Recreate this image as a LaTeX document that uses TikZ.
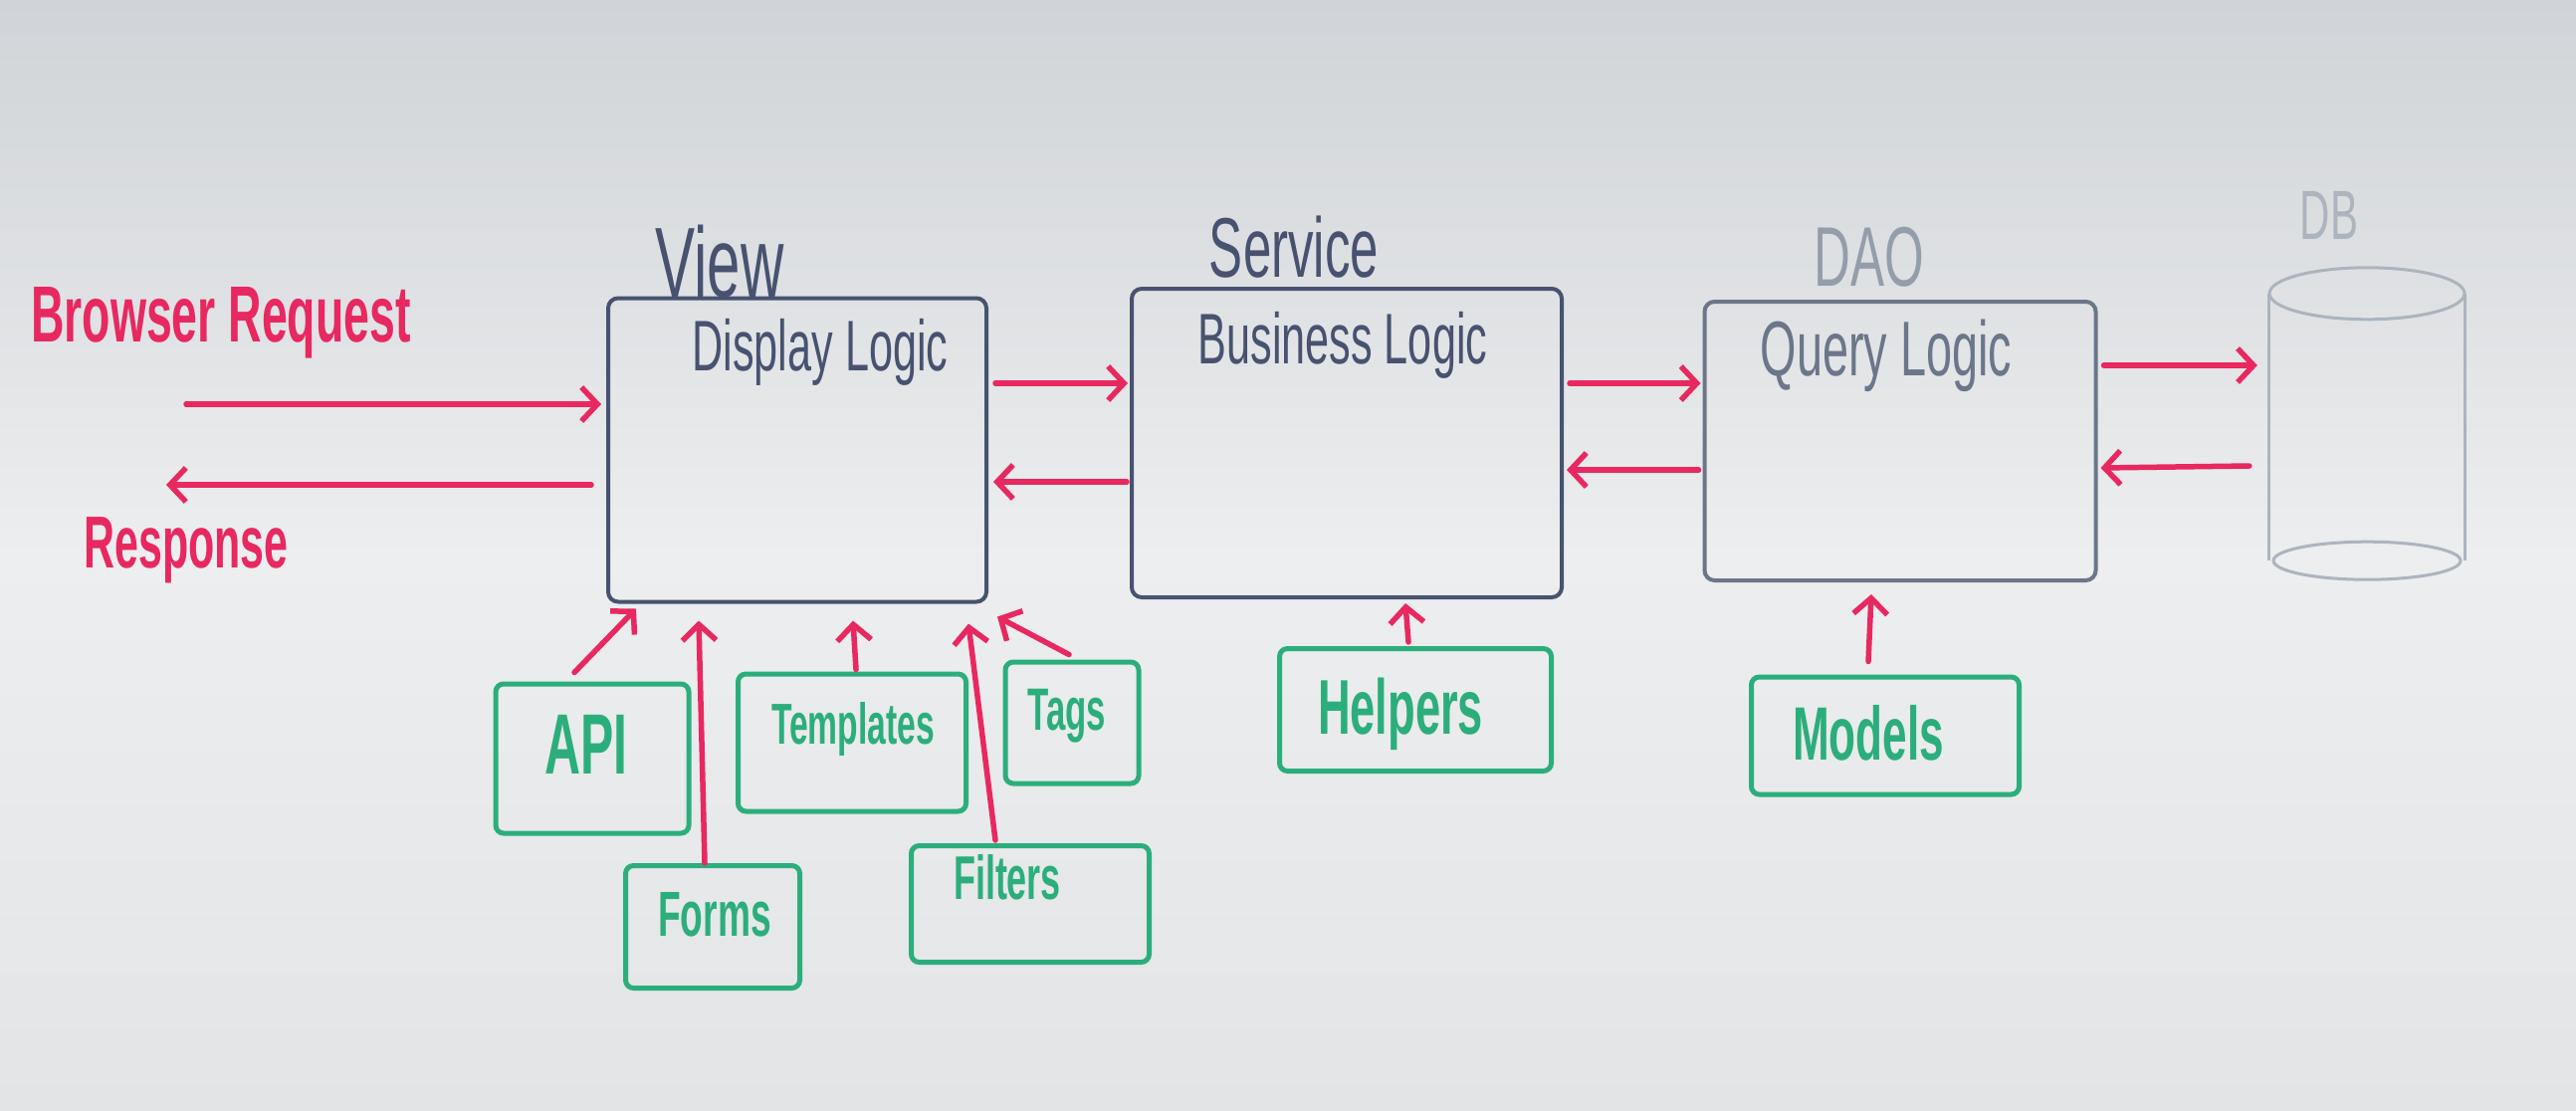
\documentclass[tikz,border=0pt]{standalone}
\usepackage{fontspec}
\newfontfamily\handfont[FakeStretch=0.6]{Liberation Sans}
\newfontfamily\markfont[FakeStretch=0.58]{Liberation Sans Bold}
\newcommand{\hsz}[1]{\handfont\fontsize{#1}{#1}\selectfont}
\newcommand{\msz}[1]{\markfont\fontsize{#1}{#1}\selectfont}
\usetikzlibrary{arrows.meta}
\definecolor{mred}{RGB}{232,40,96}
\definecolor{mgreen}{RGB}{44,174,124}
\definecolor{inkdark}{RGB}{72,82,112}
\definecolor{inkmid}{RGB}{108,118,138}
\definecolor{inklight}{RGB}{148,158,170}
\definecolor{inkfaint}{RGB}{172,180,190}
\definecolor{bgtop}{RGB}{208,211,215}
\definecolor{bgmid}{RGB}{236,238,239}
\definecolor{bgbot}{RGB}{226,228,230}
\begin{document}
\begin{tikzpicture}[x=1pt,y=-1pt,
  frame/.style={draw, rectangle, rounded corners=10pt, inner sep=0pt, line width=4pt},
  gbox/.style={draw=mgreen, rectangle, rounded corners=8pt, inner sep=0pt, line width=5pt},
  redarrow/.style={draw=mred, line width=5.5pt, line cap=round,
    -{Straight Barb[length=16pt,width=34pt,line width=5.5pt]}},
  redtext/.style={text=mred, anchor=base, inner sep=0pt},
  greentext/.style={text=mgreen, anchor=base, inner sep=0pt},
  inktext/.style={anchor=base, inner sep=0pt},
  dbline/.style={draw=inkfaint, line width=3pt}
]
\useasboundingbox (0,0) rectangle (2588,1116);
\shade[top color=bgtop, bottom color=bgbot, middle color=bgmid] (0,0) rectangle (2588,1116);

% main boxes
\node[frame, draw=inkdark, minimum width=380, minimum height=305] (view) at (801,452) {};
\node[frame, draw=inkdark, minimum width=432, minimum height=310] (svc) at (1353,445) {};
\node[frame, draw=inkmid, minimum width=393, minimum height=280] (dao) at (1909,443) {};
\node[inner sep=0pt, minimum width=196, minimum height=268] (db) at (2378,429) {};
\draw[dbline] (db.north west) -- (db.south west);
\draw[dbline] (db.north east) -- (db.south east);
\draw[dbline] (db.north) ellipse [x radius=98, y radius=26];
\draw[dbline] (db.south) ellipse [x radius=94, y radius=19];

% titles
\node[inktext, text=inkdark, font=\hsz{100}] (tview) at (723,298) {View};
\node[inktext, text=inkdark, font=\hsz{72}] (tdisp) at (824,372) {Display Logic};
\node[inktext, text=inkdark, font=\hsz{85}] (tsvc) at (1300,278) {Service};
\node[inktext, text=inkdark, font=\hsz{72}] (tbus) at (1349,365) {Business Logic};
\node[inktext, text=inklight, font=\hsz{85}] (tdao) at (1878,287) {DAO};
\node[inktext, text=inkmid, font=\hsz{78}] (tquery) at (1895,377) {Query Logic};
\node[inktext, text=inkfaint, font=\hsz{70}] (tdb) at (2340,240) {DB};

% browser side
\node[redtext, font=\msz{80}] (treq) at (222,343) {Browser Request};
\node[redtext, font=\msz{74}] (tresp) at (187,570) {Response};
\coordinate (reqstart) at (187,406);
\coordinate (respend) at (167,487);
\draw[redarrow] (reqstart) -- ([shift={(-5,-46)}]view.west);
\draw[redarrow] ([shift={(-15,35)}]view.west) -- (respend);

% horizontal arrows
\draw[redarrow] ([shift={(7,-67)}]view.east) -- ([shift={(-2,-60)}]svc.west);
\draw[redarrow] ([shift={(-3,39)}]svc.west) -- ([shift={(5,32)}]view.east);
\draw[redarrow] ([shift={(6,-60)}]svc.east) -- ([shift={(-2,-58)}]dao.west);
\draw[redarrow] ([shift={(-4,29)}]dao.west) -- ([shift={(3,27)}]svc.east);
\draw[redarrow] ([shift={(6,-76)}]dao.east) -- ([shift={(-12,-62)}]db.west);
\draw[redarrow] ([shift={(-20,39)}]db.west) -- ([shift={(3,27)}]dao.east);

% green boxes
\node[gbox, minimum width=194, minimum height=150] (api) at (595,762) {};
\node[gbox, minimum width=229, minimum height=138] (templ) at (856,746) {};
\node[gbox, minimum width=134, minimum height=122] (tags) at (1077,726) {};
\node[gbox, minimum width=175, minimum height=123] (forms) at (716,931) {};
\node[gbox, minimum width=239, minimum height=117] (filters) at (1035,908) {};
\node[gbox, minimum width=273, minimum height=123] (helpers) at (1422,713) {};
\node[gbox, minimum width=269, minimum height=118] (models) at (1894,739) {};

\node[greentext, font=\msz{86}] (tapi) at (589,777) {API};
\node[greentext, font=\msz{58}] (ttempl) at (857,747) {Templates};
\node[greentext, font=\msz{60}] (ttags) at (1072,733) {Tags};
\node[greentext, font=\msz{64}] (tforms) at (718,940) {Forms};
\node[greentext, font=\msz{62}] (tfilters) at (1012,903) {Filters};
\node[greentext, font=\msz{78}] (thelpers) at (1407,737) {Helpers};
\node[greentext, font=\msz{76}] (tmodels) at (1877,763) {Models};

% up arrows
\draw[redarrow] ([shift={(-18,-9)}]api.north) -- ([shift={(30,5)}]view.south west);
\draw[redarrow] ([shift={(-8,0)}]forms.north) -- ([shift={(93,17)}]view.south west);
\draw[redarrow] ([shift={(4,-2)}]templ.north) -- ([shift={(56,17)}]view.south);
\draw[redarrow] ([shift={(-35,-3)}]filters.north) -- ([shift={(-20,20)}]view.south east);
\draw[redarrow] ([shift={(-3,-5)}]tags.north) -- ([shift={(9,13)}]view.south east);
\draw[redarrow] ([shift={(-7,-4)}]helpers.north) -- ([shift={(59,4)}]svc.south);
\draw[redarrow] ([shift={(-17,-13)}]models.north) -- ([shift={(-29,12)}]dao.south);
\end{tikzpicture}
\end{document}
